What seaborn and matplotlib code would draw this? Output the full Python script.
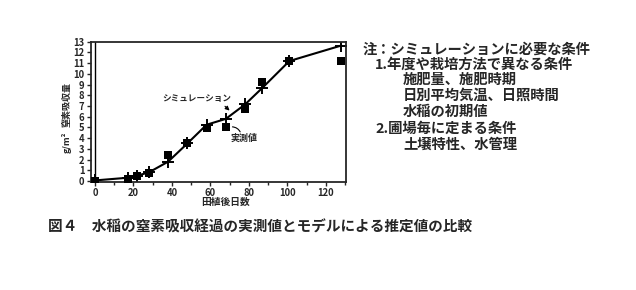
import matplotlib
matplotlib.use("Agg")
import matplotlib.pyplot as plt
import seaborn as sns
import pandas as pd

# --- data ---
sim_days = [0, 17, 22, 28, 38, 48, 58, 68, 78, 87, 101, 128]
sim_vals = [0.05, 0.3, 0.5, 0.8, 1.8, 3.5, 5.25, 5.8, 7.15, 8.7, 11.2, 12.65]
obs_days = [0, 17, 22, 28, 38, 48, 58, 68, 78, 87, 101, 128]
obs_vals = [0.02, 0.2, 0.5, 0.75, 2.45, 3.55, 4.95, 5.0, 6.7, 9.25, 11.2, 11.2]
x_ticks = [0, 20, 40, 60, 80, 100, 120]
y_ticks = list(range(0, 14))
x_label = "田植後日数"
y_label = "窒素吸収量"
y_unit = "g/m²"
sim_label = "シミュレーション"
obs_label = "実測値"
notes = [
    ("注：シミュレーションに必要な条件", 0),
    ("1.年度や栽培方法で異なる条件", 1),
    ("施肥量、施肥時期", 2),
    ("日別平均気温、日照時間", 2),
    ("水稲の初期値", 2),
    ("2.圃場毎に定まる条件", 1),
    ("土壌特性、水管理", 2),
]
caption = "図４　水稲の窒素吸収経過の実測値とモデルによる推定値の比較"

sns.set_style("ticks")
plt.rcParams['font.family'] = ['Noto Sans CJK JP', 'DejaVu Sans']
plt.rcParams['font.weight'] = 'bold'

fig = plt.figure(figsize=(6.36, 2.90), dpi=100)
ax = fig.add_axes([0.1426, 0.3734, 0.4014, 0.4826])

sim_df = pd.DataFrame({"day": sim_days, "val": sim_vals})
obs_df = pd.DataFrame({"day": obs_days, "val": obs_vals})

sns.lineplot(data=sim_df, x="day", y="val", ax=ax, color="black", lw=1.5,
             marker="+", markersize=8, markeredgewidth=1.4, markeredgecolor="black")
sns.scatterplot(data=obs_df, x="day", y="val", ax=ax, color="black", marker="s",
                s=28, linewidth=0, zorder=5)

ax.axvline(0, color="black", lw=1.0)
ax.set_xlim(-2.2, 130.4)
ax.set_ylim(-0.07, 13)
ax.set_xticks(x_ticks)
ax.set_xticks(list(range(10, 131, 20)), minor=True)
ax.set_yticks(y_ticks)
ax.tick_params(axis="both", labelsize=6.8, length=3, width=1, pad=1.5)
ax.tick_params(axis="x", which="minor", length=2.5, width=1)
for s in ax.spines.values():
    s.set_linewidth(1.3)
ax.set_xlabel("")
ax.set_ylabel("")

ax.text(53, 7.7, sim_label, fontsize=6.2, ha="center", va="center")
ax.annotate("", xy=(71, 6.4), xytext=(66.5, 7.15),
            arrowprops=dict(arrowstyle="-|>", color="black", lw=0.8, mutation_scale=6))
ax.text(77.5, 4.0, obs_label, fontsize=6.5, ha="center", va="center")
ax.annotate("", xy=(70, 5.05), xytext=(76.0, 4.35),
            arrowprops=dict(arrowstyle="-", color="black", lw=0.8,
                            connectionstyle="arc3,rad=0.4"))

fig.text(226 / 636, 1 - 201.5 / 290, x_label, fontsize=7, ha="center", va="center")
fig.text(67 / 636, 1 - 105 / 290, y_label, fontsize=6.5, rotation=90, ha="center", va="center")
fig.text(67 / 636, 1 - 142 / 290, y_unit, fontsize=6.5, rotation=90, ha="center", va="center")

indent = {0: 363, 1: 375, 2: 403}
ys = [49.5, 64.5, 80, 96, 112, 129, 145]
for (t, lvl), yy in zip(notes, ys):
    fig.text(indent[lvl] / 636, 1 - yy / 290, t, fontsize=10.3, ha="left", va="center")

fig.text(48 / 636, 1 - 227 / 290, caption, fontsize=10.5, ha="left", va="center")

fig.savefig("out.png", dpi=100)
